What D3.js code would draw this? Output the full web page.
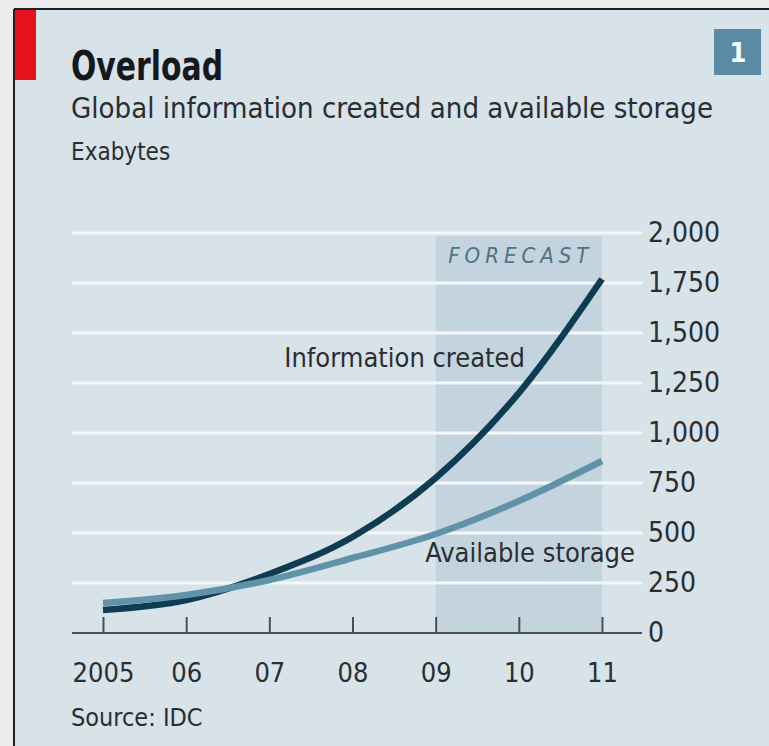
<!DOCTYPE html>
<html>
<head>
<meta charset="utf-8">
<script src="https://cdn.jsdelivr.net/npm/d3@7"></script>
<style>
  html, body { margin: 0; padding: 0; background: #ececec; }
  svg { display: block; }
  text { font-family: "DejaVu Sans Condensed", "DejaVu Sans", sans-serif; }
</style>
</head>
<body>
<div id="chart"></div>
<script>
// values (exabytes)
const years = [2005, 2006, 2007, 2008, 2009, 2010, 2011];
const yearLabels = ['2005', '06', '07', '08', '09', '10', '11'];
const infoCreated = [115, 165, 295, 480, 775, 1200, 1770];
const availStorage = [150, 190, 265, 375, 495, 660, 860];
const yTicks = [0, 250, 500, 750, 1000, 1250, 1500, 1750, 2000];
const forecastFrom = 2009;
const forecastTo = 2011;

const W = 769, H = 746;
const INK = '#2a2e31';
const FONT = '"DejaVu Sans Condensed", "DejaVu Sans", sans-serif';

const svg = d3.select('#chart').append('svg')
  .attr('width', W).attr('height', H);

// page + panel
svg.append('rect').attr('width', W).attr('height', H).attr('fill', '#ececec');
svg.append('rect')
  .attr('x', 15).attr('y', 10).attr('width', W - 15).attr('height', H - 10)
  .attr('fill', '#d7e2e9');
svg.append('line').attr('x1', 14).attr('x2', W).attr('y1', 9).attr('y2', 9)
  .attr('stroke', '#1c2226').attr('stroke-width', 2);
svg.append('line').attr('x1', 14).attr('x2', 14).attr('y1', 9).attr('y2', H)
  .attr('stroke', '#1c2226').attr('stroke-width', 2);
svg.append('rect').attr('x', 15).attr('y', 10).attr('width', 21).attr('height', 70)
  .attr('fill', '#e3121b');

// chart number badge
svg.append('rect').attr('x', 714).attr('y', 29).attr('width', 47).attr('height', 46)
  .attr('fill', '#5a8ba4');
svg.append('text').attr('x', 738).attr('y', 62).attr('text-anchor', 'middle')
  .attr('fill', '#fff').attr('font-size', 27).attr('font-weight', 'bold').text('1');

// headings
svg.append('text').attr('x', 71).attr('y', 80)
  .attr('fill', '#15191c').attr('font-size', 41).attr('font-weight', 'bold')
  .attr('textLength', 152).attr('lengthAdjust', 'spacingAndGlyphs')
  .text('Overload');
svg.append('text').attr('x', 71).attr('y', 118)
  .attr('fill', INK).attr('font-size', 29)
  .attr('textLength', 642).attr('lengthAdjust', 'spacingAndGlyphs')
  .text('Global information created and available storage');
svg.append('text').attr('x', 71).attr('y', 160)
  .attr('fill', INK).attr('font-size', 24)
  .text('Exabytes');

// scales
const x = d3.scaleLinear().domain([years[0], years[years.length - 1]]).range([103, 602]);
const y = d3.scaleLinear().domain([0, 2000]).range([633, 233]);
const gridX0 = 72, gridX1 = 642;

// forecast shading
svg.append('rect')
  .attr('x', x(forecastFrom)).attr('y', y(2000) + 3)
  .attr('width', x(forecastTo) - x(forecastFrom)).attr('height', y(0) - y(2000) - 3)
  .attr('fill', '#c4d4df');
svg.append('text')
  .attr('x', (x(forecastFrom) + x(forecastTo)) / 2 + 2).attr('y', y(1890) + 8)
  .attr('text-anchor', 'middle').attr('fill', '#4d7387')
  .attr('font-size', 22).attr('font-style', 'italic').attr('letter-spacing', 5)
  .text('FORECAST');

// gridlines
svg.append('g').selectAll('line')
  .data(yTicks.filter(d => d > 0))
  .join('line')
  .attr('x1', gridX0).attr('x2', gridX1)
  .attr('y1', d => y(d)).attr('y2', d => y(d))
  .attr('stroke', '#f4f8fa').attr('stroke-width', 3);

// y axis labels on the right
const yAxis = svg.append('g')
  .attr('transform', `translate(${gridX1},0)`)
  .call(d3.axisRight(y).tickValues(yTicks).tickFormat(d3.format(',')).tickSize(0).tickPadding(6));
yAxis.select('.domain').remove();
yAxis.selectAll('text')
  .attr('font-size', 28).attr('fill', INK).style('font-family', FONT);

// x axis: base line + upward ticks
svg.append('line').attr('x1', gridX0).attr('x2', gridX1)
  .attr('y1', y(0)).attr('y2', y(0))
  .attr('stroke', '#4a4f53').attr('stroke-width', 2);
const xAxis = svg.append('g')
  .attr('transform', `translate(0,${y(0)})`)
  .call(d3.axisBottom(x).tickValues(years)
    .tickFormat((d, i) => yearLabels[i])
    .tickSizeInner(-16).tickSizeOuter(0).tickPadding(30));
xAxis.select('.domain').remove();
xAxis.selectAll('.tick line').attr('stroke', '#4a4f53').attr('stroke-width', 2);
xAxis.selectAll('text')
  .attr('font-size', 27).attr('fill', INK).style('font-family', FONT);

// series lines
const line = d3.line()
  .x((d, i) => x(years[i]))
  .y(d => y(d))
  .curve(d3.curveMonotoneX);

svg.append('path').datum(infoCreated)
  .attr('d', line).attr('fill', 'none')
  .attr('stroke', '#0e3c50').attr('stroke-width', 6.5);
svg.append('path').datum(availStorage)
  .attr('d', line).attr('fill', 'none')
  .attr('stroke', '#6193a8').attr('stroke-width', 6.5);

// series labels
svg.append('text').attr('x', 525).attr('y', 367).attr('text-anchor', 'end')
  .attr('fill', INK).attr('font-size', 27).text('Information created');
svg.append('text').attr('x', 635).attr('y', 562).attr('text-anchor', 'end')
  .attr('fill', INK).attr('font-size', 27).text('Available storage');

// source
svg.append('text').attr('x', 71).attr('y', 726)
  .attr('fill', INK).attr('font-size', 25).text('Source: IDC');
</script>
</body>
</html>
